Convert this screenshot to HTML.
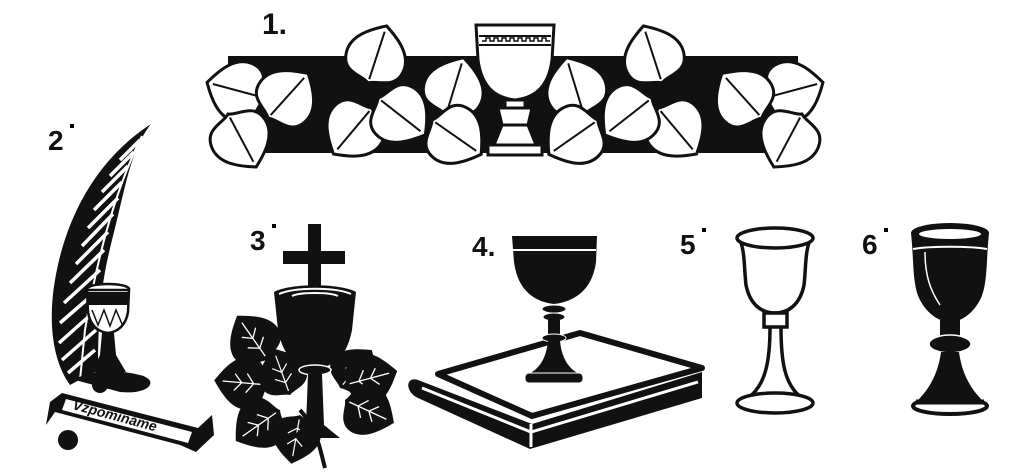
<!DOCTYPE html>
<html><head><meta charset="utf-8"><style>
html,body{margin:0;padding:0;background:#fff;}
svg{display:block}
text{font-family:"Liberation Sans",sans-serif;font-weight:bold;fill:#111}
</style></head><body>
<svg width="1024" height="472" viewBox="0 0 1024 472" xmlns="http://www.w3.org/2000/svg">
<defs>
<g id="lf">
<path d="M0,0 C-8,-6 -28,-2 -30,-22 C-32,-40 -14,-52 0,-60 C14,-52 32,-40 30,-22 C28,-2 8,-6 0,0 Z" fill="#fff" stroke="#111" stroke-width="3"/>
<path d="M0,-4 L0,-54" stroke="#111" stroke-width="2"/>
</g>
<g id="bl">
<path d="M0,0 C-6,-4 -20,-2 -22,-16 C-23,-29 -10,-38 0,-45 C10,-38 23,-29 22,-16 C20,-2 6,-4 0,0 Z" fill="#111"/>
<path d="M0,-4 L0,-38 M0,-12 L-8,-18 M0,-12 L8,-18 M0,-22 L-7,-28 M0,-22 L7,-28" stroke="#fff" stroke-width="1.1"/>
</g>
</defs>
<!-- labels -->
<text x="262" y="34" font-size="30">1.</text>
<text x="48" y="150" font-size="28">2</text><rect x="70" y="124" width="4" height="4"/>
<text x="250" y="250" font-size="28">3</text><rect x="272" y="224" width="4" height="4"/>
<text x="472" y="256" font-size="28">4.</text>
<text x="680" y="254" font-size="28">5</text><rect x="702" y="228" width="4" height="4"/>
<text x="862" y="254" font-size="28">6</text><rect x="884" y="228" width="4" height="4"/>

<!-- 1: band -->
<rect x="228" y="56" width="570" height="97" fill="#111"/>
<g>
<use href="#lf" transform="translate(265,98) rotate(-75)"/>
<use href="#lf" transform="translate(268,118) rotate(42)"/>
<use href="#lf" transform="translate(368,83) rotate(18)"/>
<use href="#lf" transform="translate(228,114) rotate(152)"/>
<use href="#lf" transform="translate(372,108) rotate(-140)"/>
<use href="#lf" transform="translate(378,98) rotate(128)"/>
<use href="#lf" transform="translate(446,115) rotate(17)"/>
<use href="#lf" transform="translate(432,120) rotate(125)"/>
<use href="#lf" transform="translate(765,98) rotate(75)"/>
<use href="#lf" transform="translate(762,118) rotate(-42)"/>
<use href="#lf" transform="translate(662,83) rotate(-18)"/>
<use href="#lf" transform="translate(802,114) rotate(-152)"/>
<use href="#lf" transform="translate(658,108) rotate(140)"/>
<use href="#lf" transform="translate(652,98) rotate(-128)"/>
<use href="#lf" transform="translate(584,115) rotate(-17)"/>
<use href="#lf" transform="translate(598,120) rotate(-125)"/>
</g>
<!-- chalice 1 -->
<g stroke="#111" stroke-width="3" fill="#fff">
<path d="M476,25 L554,25 L552,60 C548,90 532,98 515,100 C498,98 482,90 478,60 Z"/>
<rect x="505" y="100" width="20" height="8"/>
<path d="M498,108 L532,108 L528,125 L502,125 Z"/>
<path d="M502,125 L528,125 L536,145 L494,145 Z"/>
<rect x="488" y="145" width="54" height="10"/>
</g>
<path d="M479,36 L551,36 M479,45 L551,45" stroke="#111" stroke-width="2"/>
<path d="M482,41 h4 v-3 h4 v3 h4 v-3 h4 v3 h4 v-3 h4 v3 h4 v-3 h4 v3 h4 v-3 h4 v3 h4 v-3 h4 v3 h4 v-3 h4 v3 h4 v-3 h4 v3 h4" stroke="#111" stroke-width="1.5" fill="none"/>

<!-- 2: palm -->
<path d="M151,124 C130,150 125,190 112,240 C102,280 98,310 98,370 L70,385 C52,360 48,320 55,280 C65,220 95,160 151,124 Z" fill="#111"/>
<g stroke="#fff" stroke-width="3.5">
<path d="M140,140 L120,160 M134,152 L110,176 M128,166 L102,192 M122,182 L94,210 M118,198 L88,228 M113,214 L82,246 M108,232 L76,264 M104,250 L70,283 M100,270 L64,303 M98,290 L60,323 M96,310 L59,343 M96,330 L62,360 M95,350 L68,373"/>
<path d="M142,136 C120,180 100,240 85,330 L80,380" fill="none" stroke-width="2"/>
</g>
<!-- chalice 2 -->
<ellipse cx="108" cy="289" rx="21" ry="5" fill="#fff" stroke="#111" stroke-width="2.5"/>
<path d="M87,290 L129,290 L128,312 C126,325 118,332 108,333 C98,332 90,325 88,312 Z" fill="#fff" stroke="#111" stroke-width="2.5"/>
<path d="M88,292 L128,292 L128,305 L88,305 Z" fill="#111"/>
<path d="M92,310 L98,325 L104,310 L110,326 L116,310 L122,324" stroke="#111" stroke-width="1.5" fill="none"/>
<path d="M102,333 L114,333 L116,355 L126,372 L92,372 L100,355 Z" fill="#111"/>
<path d="M75,380 C90,368 120,370 140,375 C160,380 150,395 120,392 Z" fill="#111"/>
<circle cx="100" cy="385" r="8" fill="#111"/>
<!-- banner -->
<path d="M62,393 L198,428 L212,415 L214,435 L196,452 L180,445 L55,412 L46,425 L50,402 Z" fill="#111"/>
<path d="M66,399 L192,432 L188,443 L62,410 Z" fill="#fff"/>
<text x="72" y="409" font-size="14" font-family="Liberation Serif" font-weight="normal" font-style="italic" transform="rotate(15 72 409)">Vzpomínáme</text>
<circle cx="68" cy="440" r="10" fill="#111"/>

<!-- 3 -->
<path d="M300,410 C318,430 320,450 325,468" stroke="#111" stroke-width="4" fill="none"/>
<g>
<use href="#bl" transform="translate(268,360) rotate(-35) scale(1.2)"/>
<use href="#bl" transform="translate(268,385) rotate(-85) scale(1.2)"/>
<use href="#bl" transform="translate(290,395) rotate(-20) scale(1.1)"/>
<use href="#bl" transform="translate(280,410) rotate(-125) scale(1.2)"/>
<use href="#bl" transform="translate(300,415) rotate(-170) scale(1.1)"/>
<use href="#bl" transform="translate(340,388) rotate(40) scale(1.1)"/>
<use href="#bl" transform="translate(345,385) rotate(75) scale(1.2)"/>
<use href="#bl" transform="translate(345,400) rotate(115) scale(1.2)"/>
</g>
<rect x="308" y="224" width="13" height="80" fill="#111"/>
<rect x="283" y="251" width="62" height="13" fill="#111"/>
<path d="M274,292 C290,283 340,283 356,292 L352,330 C346,360 332,367 315,368 C298,367 284,360 278,330 Z" fill="#111"/>
<path d="M279,294 C295,287 335,287 351,294" stroke="#fff" stroke-width="2" fill="none"/>
<path d="M292,296 C300,292 330,292 338,296" stroke="#fff" stroke-width="2" fill="none"/>
<ellipse cx="315" cy="370" rx="16" ry="5" fill="#111" stroke="#fff" stroke-width="1.5"/>
<path d="M308,374 L322,374 L324,425 L340,438 L290,438 L306,425 Z" fill="#111"/>

<!-- 4: book -->
<path d="M418,380 L532,424 L702,372 L702,398 L530,449 L418,398 C405,392 405,376 418,380 Z" fill="#111"/>
<path d="M422,388 L531,432 L698,382" stroke="#fff" stroke-width="3" fill="none"/>
<path d="M531,424 L531,447" stroke="#fff" stroke-width="3"/>
<path d="M438,374 L580,333 L702,368 L532,416 Z" fill="#fff" stroke="#111" stroke-width="6" stroke-linejoin="round"/>
<path d="M512,236 L597,236 L596,262 C592,292 572,302 554,304 C536,302 518,292 514,262 Z" fill="#111"/>
<path d="M513,250 L596,250" stroke="#fff" stroke-width="2"/>
<ellipse cx="554" cy="309" rx="12" ry="4" fill="#111" stroke="#fff" stroke-width="1"/>
<ellipse cx="554" cy="317" rx="11" ry="4" fill="#111" stroke="#fff" stroke-width="1"/>
<path d="M548,320 L560,320 L560,335 L548,335 Z" fill="#111"/>
<ellipse cx="554" cy="338" rx="12" ry="4" fill="#111" stroke="#fff" stroke-width="1"/>
<path d="M548,341 L560,341 C562,360 570,370 580,374 L528,374 C538,370 546,360 548,341 Z" fill="#111"/>
<rect x="525" y="373" width="58" height="10" rx="4" fill="#111" stroke="#fff" stroke-width="1"/>

<!-- 5 -->
<g stroke="#111" stroke-width="3.5" fill="#fff">
<path d="M740,240 C745,252 744,268 746,285 C750,305 762,313 775,313 C788,313 800,305 804,285 C806,268 805,252 810,240"/>
<ellipse cx="775" cy="238" rx="38" ry="10"/>
<rect x="764" y="313" width="23" height="14"/>
<path d="M770,327 C770,360 766,385 748,398 M781,327 C781,360 784,385 802,398" fill="none"/>
<ellipse cx="775" cy="403" rx="38" ry="10"/>
</g>

<!-- 6 -->
<path d="M911,233 C914,260 912,285 920,300 C928,315 940,322 950,322 C960,322 972,315 980,300 C988,285 986,260 989,233 Z" fill="#111"/>
<ellipse cx="950" cy="233" rx="39" ry="10" fill="#111"/>
<ellipse cx="950" cy="234" rx="31" ry="5" fill="#fff"/>
<path d="M913,249 C930,246 970,246 987,249" stroke="#fff" stroke-width="2" fill="none"/>
<path d="M925,252 C925,275 930,290 940,305" stroke="#fff" stroke-width="1.5" fill="none"/>
<rect x="940" y="320" width="20" height="18" fill="#111"/>
<ellipse cx="950" cy="344" rx="21" ry="9" fill="#111" stroke="#fff" stroke-width="1.5"/>
<path d="M941,352 L959,352 C962,375 972,390 982,400 L918,400 C928,390 938,375 941,352 Z" fill="#111"/>
<ellipse cx="950" cy="406" rx="37" ry="8" fill="#fff" stroke="#111" stroke-width="4"/>
<path d="M916,402 L984,402" stroke="#111" stroke-width="5"/>
</svg>
</body></html>
